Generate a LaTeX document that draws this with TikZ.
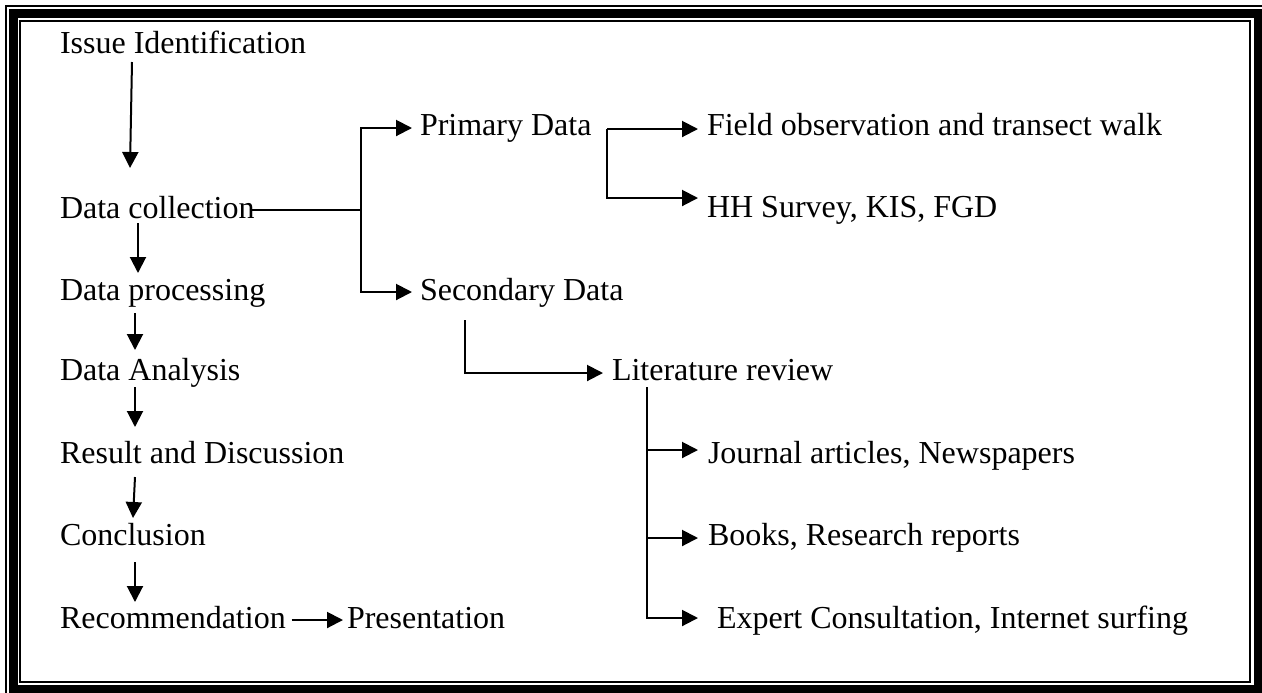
\documentclass[tikz,border=0pt]{standalone}
\usepackage{fontspec}
\setmainfont{Liberation Serif}
\usetikzlibrary{arrows.meta}
\begin{document}
\begin{tikzpicture}[x=0.5pt,y=-0.5pt,
  lbl/.style={anchor=base west,inner sep=0pt,outer sep=0pt,font=\fontsize{16}{19}\selectfont},
  conn/.style={line width=1pt},
  arr/.style={conn,-{Triangle[length=8pt,width=8pt]}},
  thinframe/.style={line width=1pt},
  thickframe/.style={line width=4.5pt}]
\useasboundingbox (0,0) rectangle (1262,692);
\begin{scope}
\clip (0,0) rectangle (1262,692);
\draw[thinframe] (6,6) rectangle (1300,730);
\draw[thickframe] (13,13.5) rectangle (1258.5,689);
\draw[thinframe] (20,21) rectangle (1250,682);
\end{scope}
% left column
\node[lbl] (issue) at (60,53) {Issue Identification};
\node[lbl] (dc) at (60,218) {Data collection};
\node[lbl] (dp) at (60,300) {Data processing};
\node[lbl] (da) at (60,380) {Data Analysis};
\node[lbl] (rd) at (60,463) {Result and Discussion};
\node[lbl] (conc) at (60,545) {Conclusion};
\node[lbl] (rec) at (60,628) {Recommendation};
\node[lbl] (pres) at (347,628) {Presentation};
% right part
\node[lbl] (prim) at (420,135) {Primary Data};
\node[lbl] (sec) at (420,300) {Secondary Data};
\node[lbl] (field) at (707,135) {Field observation and transect walk};
\node[lbl] (hh) at (707,217) {HH Survey, KIS, FGD};
\node[lbl] (lit) at (612,380) {Literature review};
\node[lbl] (jour) at (708,463) {Journal articles, Newspapers};
\node[lbl] (books) at (708,545) {Books, Research reports};
\node[lbl] (exp) at (717,628) {Expert Consultation, Internet surfing};
% left column arrows
\draw[arr] ([shift={(72,9)}]issue.base west) -- ([shift={(70,-50)}]dc.base west);
\draw[arr] ([shift={(78,5)}]dc.base west) -- ([shift={(78,-27)}]dp.base west);
\draw[arr] ([shift={(75,13)}]dp.base west) -- ([shift={(75,-30)}]da.base west);
\draw[arr] ([shift={(75,7)}]da.base west) -- ([shift={(75,-36)}]rd.base west);
\draw[arr] ([shift={(75,14)}]rd.base west) -- ([shift={(73,-27)}]conc.base west);
\draw[arr] ([shift={(75,17)}]conc.base west) -- ([shift={(75,-26)}]rec.base west);
\draw[arr] ([shift={(6,-8)}]rec.base east) -- ([shift={(-4,-8)}]pres.base west);
% data collection branch
\coordinate (j1) at (361,210);
\draw[conn] ([shift={(-5,-8)}]dc.base east) -- (j1);
\draw[arr] (j1) |- ([shift={(-8,-7)}]prim.base west);
\draw[arr] (j1) |- ([shift={(-8,-8)}]sec.base west);
% primary branch
\coordinate (pj) at (607,129);
\draw[arr] (pj) -- ([shift={(-9,-6)}]field.base west);
\draw[arr] (pj) |- ([shift={(-9,-19)}]hh.base west);
% secondary to literature
\draw[arr] ([shift={(45,20)}]sec.base west) |- ([shift={(-9,-7)}]lit.base west);
% literature branch
\coordinate (lj) at ([shift={(35,7)}]lit.base west);
\draw[arr] (lj) |- ([shift={(-10,-13)}]jour.base west);
\draw[arr] (lj) |- ([shift={(-10,-7)}]books.base west);
\draw[arr] (lj) |- ([shift={(-19,-10)}]exp.base west);
\end{tikzpicture}
\end{document}
